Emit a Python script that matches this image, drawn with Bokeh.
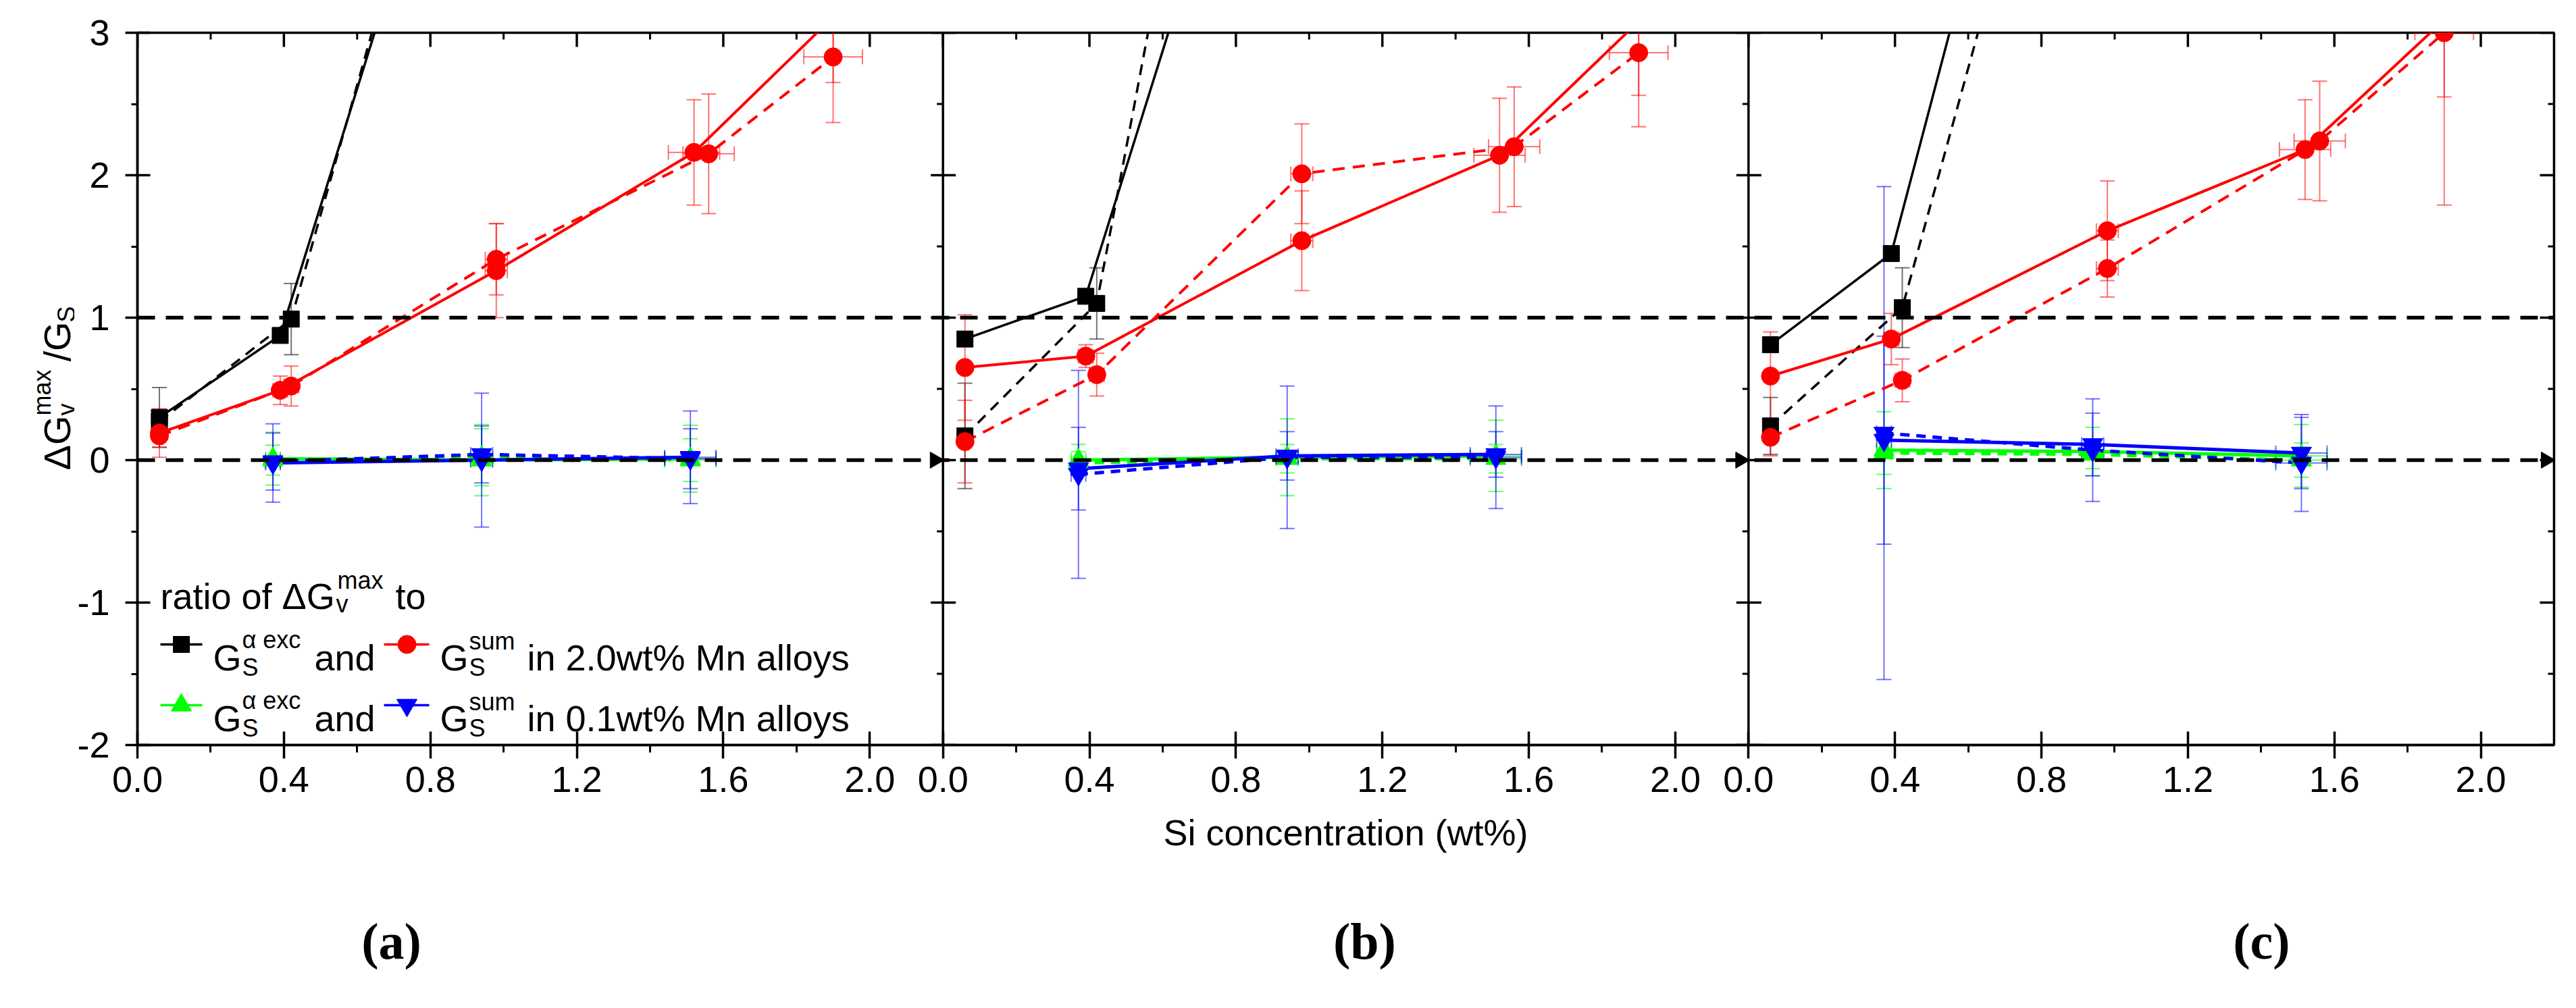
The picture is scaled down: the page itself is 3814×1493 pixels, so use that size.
import math
from bokeh.plotting import figure
from bokeh.models import FixedTicker, Range1d, Span, LinearAxis
from bokeh.layouts import row
from bokeh.core.properties import value
from bokeh.embed import file_html
from bokeh.resources import INLINE

# ---------------- data ----------------
TICK_VALUES_X = [0.0, 0.4, 0.8, 1.2, 1.6, 2.0]
TICK_LABELS_X = ["0.0", "0.4", "0.8", "1.2", "1.6", "2.0"]
MINOR_X = [0.2, 0.6, 1.0, 1.4, 1.8]
TICK_VALUES_Y = [-2, -1, 0, 1, 2, 3]
TICK_LABELS_Y = ["-2", "-1", "0", "1", "2", "3"]
MINOR_Y = [-1.5, -0.5, 0.5, 1.5, 2.5]
PANEL_WIDTH = 2.2
PANEL_NAMES = ["(a)", "(b)", "(c)"]

X_BLACK_SOLID = [0.06, 0.39, 0.98]
X_BLACK_DASH = [0.06, 0.42, 0.98]
XERR_BLACK = [0.0, 0.02, 0.03]
X_RED_SOLID = [0.06, 0.39, 0.98, 1.52, 1.90]
X_RED_DASH = [0.06, 0.42, 0.98, 1.56, 1.90]
XERR_RED = [0.0, 0.02, 0.03, 0.07, 0.08]
X_MN01 = [0.37, 0.94, 1.51]
XERR_MN01 = [0.02, 0.03, 0.07]

# panel (a)
A_BLACK_SOLID = [0.30, 0.875, 5.74]
A_BLACK_SOLID_ERR = [0.21, 0.0, 0.5]
A_BLACK_DASH = [0.27, 0.99, 6.10]
A_BLACK_DASH_ERR = [0.05, 0.25, 0.5]
A_RED_SOLID = [0.19, 0.49, 1.33, 2.16, 3.11]
A_RED_SOLID_ERR = [0.17, 0.10, 0.33, 0.37, 0.46]
A_RED_DASH = [0.17, 0.52, 1.41, 2.15, 2.83]
A_RED_DASH_ERR = [0.08, 0.14, 0.25, 0.42, 0.46]
A_GREEN_SOLID = [0.01, 0.00, 0.01]
A_GREEN_SOLID_ERR = [0.185, 0.25, 0.235]
A_GREEN_DASH = [0.00, 0.02, 0.00]
A_GREEN_DASH_ERR = [0.105, 0.20, 0.15]
A_BLUE_SOLID = [-0.02, 0.00, 0.02]
A_BLUE_SOLID_ERR = [0.275, 0.47, 0.325]
A_BLUE_DASH = [-0.01, 0.04, 0.01]
A_BLUE_DASH_ERR = [0.20, 0.20, 0.21]

# panel (b)
B_BLACK_SOLID = [0.85, 1.15, 5.99]
B_BLACK_SOLID_ERR = [0.0, 0.0, 0.5]
B_BLACK_DASH = [0.17, 1.10, 8.70]
B_BLACK_DASH_ERR = [0.37, 0.25, 0.5]
B_RED_SOLID = [0.65, 0.73, 1.54, 2.14, 3.08]
B_RED_SOLID_ERR = [0.37, 0.08, 0.35, 0.40, 0.52]
B_RED_DASH = [0.13, 0.60, 2.01, 2.20, 2.86]
B_RED_DASH_ERR = [0.29, 0.15, 0.35, 0.42, 0.52]
B_GREEN_SOLID = [0.00, 0.02, 0.03]
B_GREEN_SOLID_ERR = [0.11, 0.27, 0.25]
B_GREEN_DASH = [-0.02, 0.01, 0.01]
B_GREEN_DASH_ERR = [0.08, 0.10, 0.10]
B_BLUE_SOLID = [-0.06, 0.03, 0.04]
B_BLUE_SOLID_ERR = [0.29, 0.17, 0.16]
B_BLUE_DASH = [-0.10, 0.02, 0.02]
B_BLUE_DASH_ERR = [0.73, 0.50, 0.36]

# panel (c)
C_BLACK_SOLID = [0.81, 1.45, 7.20]
C_BLACK_SOLID_ERR = [0.0, 0.0, 0.5]
C_BLACK_DASH = [0.24, 1.07, 6.30]
C_BLACK_DASH_ERR = [0.20, 0.28, 0.5]
C_RED_SOLID = [0.59, 0.85, 1.61, 2.18, 3.09]
C_RED_SOLID_ERR = [0.31, 0.18, 0.35, 0.35, 0.54]
C_RED_DASH = [0.16, 0.56, 1.345, 2.24, 3.00]
C_RED_DASH_ERR = [0.13, 0.15, 0.20, 0.42, 1.21]
C_GREEN_SOLID = [0.07, 0.06, 0.03]
C_GREEN_SOLID_ERR = [0.27, 0.17, 0.22]
C_GREEN_DASH = [0.05, 0.04, 0.00]
C_GREEN_DASH_ERR = [0.15, 0.10, 0.12]
C_BLUE_SOLID = [0.14, 0.11, 0.05]
C_BLUE_SOLID_ERR = [0.73, 0.22, 0.25]
C_BLUE_DASH = [0.19, 0.07, -0.02]
C_BLUE_DASH_ERR = [1.73, 0.36, 0.34]

# ---------------- layout ----------------
FONT = "Liberation Sans"
TOTAL_W, TOTAL_H = 3798, 1470
WL = 110                       # width of the y-label strip
WM = TOTAL_W - WL              # main plot width
ML, MR, MT = 93, 17, 48
HM = TOTAL_H
MB = HM - MT - 1055
FRAME_W = WM - ML - MR
FRAME_H = HM - MT - MB
X_MAX = 3 * PANEL_WIDTH
PPX = FRAME_W / X_MAX
PPY = FRAME_H / 5.0
FRAME_LEFT_PAGE = 8 + WL + ML
FRAME_TOP_PAGE = 8 + MT
FRAME_BOTTOM_PAGE = FRAME_TOP_PAGE + FRAME_H


def dx(page_x):
    return (page_x - FRAME_LEFT_PAGE) / PPX


def dy(page_y):
    return 3 - (page_y - FRAME_TOP_PAGE) / PPY


p = figure(width=WM, height=HM, output_backend="svg", toolbar_location=None,
           x_range=Range1d(0, X_MAX), y_range=Range1d(-2, 3),
           min_border_left=ML, min_border_right=MR, min_border_top=MT, min_border_bottom=MB,
           background_fill_color="white", border_fill_color="white")
p.xgrid.visible = False
p.ygrid.visible = False
p.outline_line_color = "black"
p.outline_line_width = 3.5

majors, minors, overrides = [], [], {}
for i in range(3):
    for t, lab in zip(TICK_VALUES_X, TICK_LABELS_X):
        v = round(i * PANEL_WIDTH + t, 6)
        majors.append(v)
        overrides[v] = lab
    for t in MINOR_X:
        minors.append(round(i * PANEL_WIDTH + t, 6))

xax = p.xaxis[0]
xax.ticker = FixedTicker(ticks=majors, minor_ticks=minors)
xax.major_label_overrides = overrides
yax = p.yaxis[0]
yax.ticker = FixedTicker(ticks=TICK_VALUES_Y, minor_ticks=MINOR_Y)
yax.major_label_overrides = dict(zip(TICK_VALUES_Y, TICK_LABELS_Y))

for ax in (xax, yax):
    ax.axis_line_width = 3.5
    ax.major_tick_line_width = 3.5
    ax.minor_tick_line_width = 3
    ax.major_label_text_font = FONT
    ax.major_label_text_font_size = "54px"
    ax.major_label_text_color = "black"
xax.major_tick_in = 20
xax.major_tick_out = 20
xax.minor_tick_in = 0
xax.minor_tick_out = 11
xax.major_label_standoff = 12
xax.axis_label = "Si concentration (wt%)"
xax.axis_label_text_font = FONT
xax.axis_label_text_font_size = "54px"
xax.axis_label_text_font_style = "normal"
xax.axis_label_text_color = "black"
xax.axis_label_standoff = 27
yax.major_tick_in = 19
yax.major_tick_out = 18
yax.minor_tick_in = 0
yax.minor_tick_out = 9
yax.major_label_standoff = 23

# panel labels (a)-(c): a second, line-less axis under the first one
label_pos = [round(dx(px), 6) for px in (587, 2028, 3356)]
pax = LinearAxis(ticker=FixedTicker(ticks=label_pos, minor_ticks=[]),
                 major_label_overrides=dict(zip(label_pos, PANEL_NAMES)),
                 axis_line_color=None, major_tick_line_color=None,
                 minor_tick_line_color=None, major_tick_in=0, major_tick_out=0,
                 minor_tick_in=0, minor_tick_out=0,
                 major_label_standoff=86,
                 major_label_text_font="Liberation Serif",
                 major_label_text_font_style="bold",
                 major_label_text_font_size="76px",
                 major_label_text_color="black")
p.add_layout(pax, "below")

# top and right mirror ticks (inside)
p.segment(x0=majors, y0=[3] * len(majors), x1=majors, y1=[3 - 21 / PPY] * len(majors),
          line_color="black", line_width=3.5)
p.segment(x0=minors, y0=[3] * len(minors), x1=minors, y1=[3 - 10 / PPY] * len(minors),
          line_color="black", line_width=3)
p.segment(x0=[X_MAX] * 6, y0=TICK_VALUES_Y, x1=[X_MAX - 21 / PPX] * 6, y1=TICK_VALUES_Y,
          line_color="black", line_width=3.5)
p.segment(x0=[X_MAX] * 5, y0=MINOR_Y, x1=[X_MAX - 9 / PPX] * 5, y1=MINOR_Y,
          line_color="black", line_width=3)

# reference lines
for yref in (0, 1):
    p.add_layout(Span(location=yref, dimension="width", line_color="black",
                      line_width=5.5, line_dash="26 16"))

# panel separators and their y-ticks
for i in (1, 2):
    xb = i * PANEL_WIDTH
    p.add_layout(Span(location=xb, dimension="height", line_color="black", line_width=3.5))
    p.segment(x0=[xb - 18 / PPX] * 6, y0=TICK_VALUES_Y, x1=[xb + 19 / PPX] * 6,
              y1=TICK_VALUES_Y, line_color="black", line_width=3.5)
    p.segment(x0=[xb - 9 / PPX] * 5, y0=MINOR_Y, x1=[xb] * 5, y1=MINOR_Y,
              line_color="black", line_width=3)

# axis arrows at y = 0
arrow_x = [PANEL_WIDTH - 12 / PPX, 2 * PANEL_WIDTH - 12 / PPX, X_MAX - 12 / PPX]
p.scatter(x=arrow_x, y=[0, 0, 0], marker="triangle", angle=-math.pi / 2, size=24,
          fill_color="black", line_color="black")

# ---------------- series ----------------
panels_data = [
    (A_BLACK_SOLID, A_BLACK_SOLID_ERR, A_BLACK_DASH, A_BLACK_DASH_ERR,
     A_RED_SOLID, A_RED_SOLID_ERR, A_RED_DASH, A_RED_DASH_ERR,
     A_GREEN_SOLID, A_GREEN_SOLID_ERR, A_GREEN_DASH, A_GREEN_DASH_ERR,
     A_BLUE_SOLID, A_BLUE_SOLID_ERR, A_BLUE_DASH, A_BLUE_DASH_ERR),
    (B_BLACK_SOLID, B_BLACK_SOLID_ERR, B_BLACK_DASH, B_BLACK_DASH_ERR,
     B_RED_SOLID, B_RED_SOLID_ERR, B_RED_DASH, B_RED_DASH_ERR,
     B_GREEN_SOLID, B_GREEN_SOLID_ERR, B_GREEN_DASH, B_GREEN_DASH_ERR,
     B_BLUE_SOLID, B_BLUE_SOLID_ERR, B_BLUE_DASH, B_BLUE_DASH_ERR),
    (C_BLACK_SOLID, C_BLACK_SOLID_ERR, C_BLACK_DASH, C_BLACK_DASH_ERR,
     C_RED_SOLID, C_RED_SOLID_ERR, C_RED_DASH, C_RED_DASH_ERR,
     C_GREEN_SOLID, C_GREEN_SOLID_ERR, C_GREEN_DASH, C_GREEN_DASH_ERR,
     C_BLUE_SOLID, C_BLUE_SOLID_ERR, C_BLUE_DASH, C_BLUE_DASH_ERR),
]
STYLE = [
    # x, xerr, color, err alpha, marker, size, line width, dash
    (X_BLACK_SOLID, XERR_BLACK, "black", 0.55, "square", 24, 3.5, "solid"),
    (X_BLACK_DASH, XERR_BLACK, "black", 0.55, "square", 24, 3.5, "16 11"),
    (X_RED_SOLID, XERR_RED, "#ff0000", 0.55, "circle", 27, 4, "solid"),
    (X_RED_DASH, XERR_RED, "#ff0000", 0.55, "circle", 27, 4, "18 12"),
    (X_MN01, XERR_MN01, "#00ff00", 0.6, "triangle", 30, 5, "solid"),
    (X_MN01, XERR_MN01, "#00ff00", 0.6, "triangle", 30, 5, "14 10"),
    (X_MN01, XERR_MN01, "#0000ff", 0.55, "inverted_triangle", 30, 5, "solid"),
    (X_MN01, XERR_MN01, "#0000ff", 0.55, "inverted_triangle", 30, 5, "14 10"),
]
SERIES = []
for pi_, pdata in enumerate(panels_data):
    off = pi_ * PANEL_WIDTH
    for k, st in enumerate(STYLE):
        xs = [x + off for x in st[0]]
        SERIES.append((xs, pdata[2 * k], pdata[2 * k + 1], st[1], st))

for xs, ys, errs, xerrs, st in SERIES:
    color, ea = st[2], st[3]
    ex = [x for x, e in zip(xs, errs) if e > 0]
    lo = [y - e for y, e in zip(ys, errs) if e > 0]
    hi = [y + e for y, e in zip(ys, errs) if e > 0]
    p.segment(x0=ex, y0=lo, x1=ex, y1=hi, line_color=color, line_alpha=ea, line_width=2)
    p.scatter(x=ex + ex, y=lo + hi, marker="dash", size=22, line_color=color,
              line_alpha=ea, line_width=2)
    hx = [(x, y, e) for x, y, e in zip(xs, ys, xerrs) if e > 0]
    if hx:
        x0 = [x - e for x, y, e in hx]
        x1 = [x + e for x, y, e in hx]
        yy = [y for x, y, e in hx]
        p.segment(x0=x0, y0=yy, x1=x1, y1=yy, line_color=color, line_alpha=ea, line_width=2)
        p.scatter(x=x0 + x1, y=yy + yy, marker="dash", angle=math.pi / 2, size=22,
                  line_color=color, line_alpha=ea, line_width=2)

for xs, ys, errs, xerrs, st in SERIES:
    p.line(xs, ys, line_color=st[2], line_width=st[6], line_dash=st[7])
for xs, ys, errs, xerrs, st in SERIES:
    p.scatter(xs, ys, marker=st[4], size=st[5], fill_color=st[2], line_color=st[2])


def ptext(fig, text, x, y, size, angle=0.0, font=FONT, style="normal", align="left"):
    fig.text(x=[x], y=[y], text=[text], text_font=value(font),
             text_font_size=value(f"{size}px"), text_font_style=style,
             text_align=align, text_baseline="alphabetic", angle=angle,
             text_color="black")


# legend (inside panel a)
ptext(p, "ratio of ΔG", dx(245), dy(890), 54)
ptext(p, "v", dx(505), dy(902), 36)
ptext(p, "max", dx(507), dy(867), 36)
ptext(p, "to", dx(593), dy(890), 54)
LEGEND_ROWS = [("black", "square", 24, "#ff0000", "circle", 27, "in 2.0wt% Mn alloys"),
               ("#00ff00", "triangle", 30, "#0000ff", "inverted_triangle", 30,
                "in 0.1wt% Mn alloys")]
for r, (c1, m1, s1, c2, m2, s2, tail) in enumerate(LEGEND_ROWS):
    yc = 962 + 90 * r
    yb = 981 + 90 * r
    p.line([dx(245), dx(307)], [dy(yc)] * 2, line_color=c1, line_width=3.5)
    p.scatter([dx(276)], [dy(yc)], marker=m1, size=s1, fill_color=c1, line_color=c1)
    ptext(p, "G", dx(323), dy(yb), 54)
    ptext(p, "S", dx(366), dy(yb + 15), 36)
    ptext(p, "α exc", dx(366), dy(yb - 26), 36)
    ptext(p, "and", dx(473), dy(yb), 54)
    p.line([dx(576), dx(643)], [dy(yc)] * 2, line_color=c2, line_width=3.5)
    p.scatter([dx(610)], [dy(yc)], marker=m2, size=s2, fill_color=c2, line_color=c2)
    ptext(p, "G", dx(659), dy(yb), 54)
    ptext(p, "S", dx(702), dy(yb + 15), 36)
    ptext(p, "sum", dx(702), dy(yb - 24), 36)
    ptext(p, tail, dx(788), dy(yb), 54)

# ---------------- y-label strip (its frame lines up with the main frame) ----------------
yl = figure(width=WL, height=HM, output_backend="svg", toolbar_location=None,
            x_range=Range1d(8, 8 + WL),
            y_range=Range1d(-FRAME_BOTTOM_PAGE, -FRAME_TOP_PAGE),
            min_border=0, min_border_left=0, min_border_right=0,
            min_border_top=0, min_border_bottom=0,
            x_axis_type=None, y_axis_type=None, outline_line_color=None,
            background_fill_color="white", border_fill_color="white")
yl.xgrid.visible = False
yl.ygrid.visible = False
R = math.pi / 2
# rotated pieces, anchored at their upper end (text reads bottom to top)
ptext(yl, "ΔG", 92, -623, 56, R, align="right")
ptext(yl, "v", 106, -605, 36, R, align="right")
ptext(yl, "max", 70, -555, 36, R, align="right")
ptext(yl, "/G", 92, -484, 56, R, align="right")
ptext(yl, "S", 106, -461, 36, R, align="right")

layout = row(yl, p)
open("out.html", "w").write(file_html(layout, INLINE))
